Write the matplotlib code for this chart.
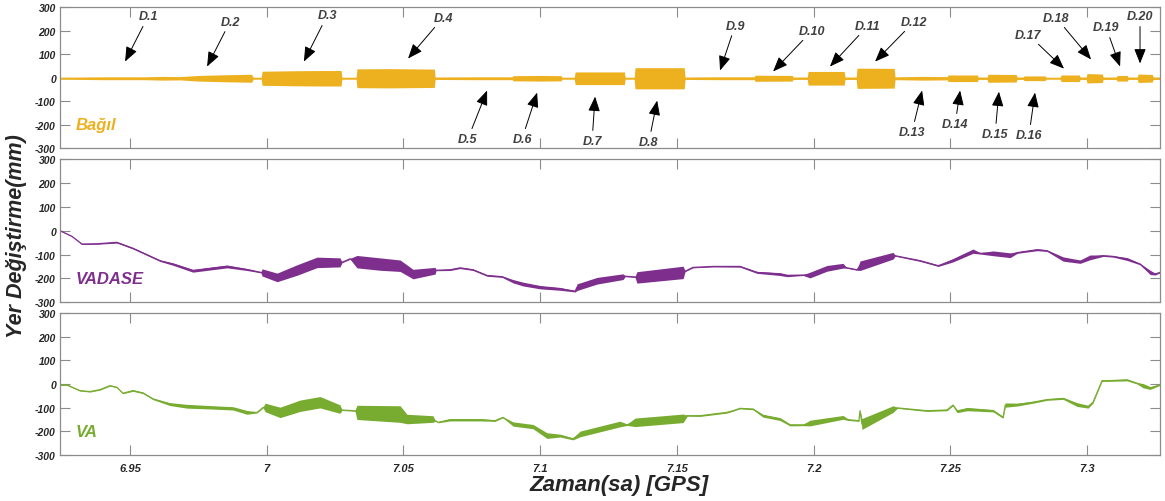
import matplotlib
matplotlib.use("Agg")
import matplotlib.pyplot as plt
import numpy as np

plt.rcParams['font.family'] = ['Liberation Sans', 'DejaVu Sans']

# --- Bagil (relative) : knot time, centre, half-width of oscillation envelope
bagil_t = [6.9244, 6.940, 6.955, 6.962, 6.9683, 6.975, 6.985, 6.9945, 6.9950, 6.9980,
           6.9983, 7.010, 7.020, 7.0272, 7.0275, 7.0327, 7.0330, 7.045, 7.0613, 7.0616,
           7.075, 7.0898, 7.0901, 7.100, 7.1077, 7.1080, 7.1125, 7.1128, 7.1308, 7.1311,
           7.1344, 7.1347, 7.1527, 7.1530, 7.165, 7.1783, 7.1786, 7.1922, 7.1925, 7.1977,
           7.1980, 7.2112, 7.2115, 7.2156, 7.2159, 7.2295, 7.2298, 7.240, 7.2489, 7.2492,
           7.2599, 7.2602, 7.2635, 7.2638, 7.2741, 7.2744, 7.2767, 7.2770, 7.2847, 7.2850,
           7.2902, 7.2905, 7.2972, 7.2975, 7.2997, 7.3000, 7.3056, 7.3059, 7.3107, 7.3110,
           7.3147, 7.3150, 7.3184, 7.3187, 7.3239, 7.3242, 7.3267]
bagil_a = [4, 6, 6, 8, 7, 12, 15, 17, 4, 4,
           30, 32, 33, 33, 4, 4, 40, 41, 39, 5,
           6, 6, 11, 12, 11, 4, 4, 27, 27, 4,
           4, 45, 45, 5, 6, 6, 13, 12, 5, 5,
           29, 29, 5, 5, 43, 42, 6, 8, 7, 14,
           14, 5, 5, 17, 16, 5, 5, 10, 10, 4,
           4, 14, 14, 5, 5, 20, 18, 5, 5, 12,
           12, 5, 5, 18, 16, 5, 5]
bagil_c = [-3] * len(bagil_t)

# --- VADASE
vadase_t = [6.9244, 6.9288, 6.9324, 6.9379, 6.9452, 6.9511, 6.9610, 6.9657, 6.9730, 6.9855,
            6.9928, 6.9979, 6.9983, 7.0038, 7.0111, 7.0184, 7.0268, 7.0275, 7.0305, 7.0330,
            7.0414, 7.0488, 7.0535, 7.0616, 7.0619, 7.0671, 7.0707, 7.0755, 7.0806, 7.0861,
            7.0901, 7.0938, 7.1000, 7.1073, 7.1128, 7.1135, 7.1208, 7.1303, 7.1311, 7.1347,
            7.1354, 7.1523, 7.1530, 7.1559, 7.1632, 7.1731, 7.1793, 7.1877, 7.1903, 7.1962,
            7.1987, 7.2049, 7.2108, 7.2119, 7.2159, 7.2170, 7.2291, 7.2298, 7.2390, 7.2456,
            7.2510, 7.2583, 7.2609, 7.2657, 7.2719, 7.2745, 7.2818, 7.2854, 7.2913, 7.2975,
            7.3011, 7.3059, 7.3096, 7.3147, 7.3194, 7.3231, 7.3249, 7.3267]
vadase_c = [0, -24, -56, -55, -49, -74, -126, -140, -168, -150,
            -163, -175, -175, -196, -165, -133, -133, -133, -118, -130,
            -140, -147, -182, -168, -166, -164, -156, -164, -188, -193,
            -212, -224, -237, -244, -254, -237, -210, -193, -191, -194,
            -196, -175, -170, -154, -150, -150, -175, -182, -188, -186,
            -186, -158, -147, -155, -164, -147, -105, -105, -126, -147,
            -124, -86, -95, -95, -103, -92, -80, -84, -119, -130,
            -112, -105, -108, -119, -140, -175, -182, -175]
vadase_a = [1, 1, 2, 2, 3, 3, 3, 5, 6, 6,
            4, 2, 15, 18, 22, 22, 19, 2, 2, 26,
            26, 24, 20, 14, 2, 3, 3, 3, 3, 3,
            7, 8, 7, 6, 3, 14, 14, 12, 2, 2,
            24, 26, 2, 2, 2, 3, 4, 6, 5, 2,
            12, 12, 10, 2, 2, 20, 14, 2, 3, 3,
            7, 9, 3, 10, 10, 3, 4, 3, 9, 7,
            10, 3, 3, 6, 3, 9, 4, 2]

# --- VA
va_t = [6.9244, 6.9270, 6.9317, 6.9354, 6.9390, 6.9427, 6.9452, 6.9474, 6.9511, 6.9548,
        6.9584, 6.9646, 6.9708, 6.9804, 6.9877, 6.9928, 6.9965, 6.9987, 6.9994, 7.0049,
        7.0122, 7.0195, 7.0268, 7.0275, 7.0323, 7.0330, 7.0488, 7.0513, 7.0608, 7.0616,
        7.0627, 7.0671, 7.0780, 7.0835, 7.0864, 7.0901, 7.0974, 7.1025, 7.1073, 7.1120,
        7.1146, 7.1292, 7.1318, 7.1347, 7.1523, 7.1538, 7.1585, 7.1683, 7.1705, 7.1731,
        7.1779, 7.1815, 7.1877, 7.1914, 7.1962, 7.1987, 7.2108, 7.2126, 7.2166, 7.2170,
        7.2177, 7.2291, 7.2306, 7.2415, 7.2488, 7.2510, 7.2525, 7.2562, 7.2657, 7.2693,
        7.2701, 7.2745, 7.2803, 7.2854, 7.2913, 7.2964, 7.3004, 7.3022, 7.3055, 7.3074,
        7.3147, 7.3183, 7.3205, 7.3231, 7.3267]
va_c = [-4, -4, -28, -32, -24, -7, -14, -39, -28, -38,
        -63, -85, -94, -99, -103, -120, -120, -99, -99, -120,
        -92, -77, -106, -110, -113, -120, -127, -148, -148, -155,
        -162, -151, -151, -155, -141, -169, -180, -218, -218, -232,
        -211, -169, -172, -162, -145, -134, -134, -120, -113, -103,
        -106, -134, -148, -173, -173, -165, -141, -151, -155, -113,
        -169, -106, -101, -113, -110, -89, -115, -106, -113, -141,
        -89, -87, -77, -66, -61, -87, -96, -77, 14, 14,
        17, 3, -7, -17, -4]
va_a = [2, 2, 2, 2, 2, 2, 2, 2, 3, 3,
        3, 6, 8, 7, 7, 8, 2, 2, 18, 22,
        24, 24, 18, 2, 2, 30, 35, 20, 14, 2,
        2, 5, 5, 3, 2, 9, 9, 12, 6, 4,
        12, 12, 3, 18, 18, 2, 3, 3, 2, 2,
        3, 6, 6, 4, 3, 12, 8, 3, 3, 3,
        23, 14, 2, 3, 3, 3, 6, 7, 5, 4,
        9, 6, 4, 3, 4, 8, 6, 4, 3, 3,
        4, 3, 9, 6, 2]

# --- event labels: name, text position (t, y), arrow tip (t, y)
ev_names = ['D.1', 'D.2', 'D.3', 'D.4', 'D.5', 'D.6', 'D.7', 'D.8', 'D.9', 'D.10',
            'D.11', 'D.12', 'D.13', 'D.14', 'D.15', 'D.16', 'D.17', 'D.18', 'D.19', 'D.20']
ev_text_t = [6.9566, 6.9866, 7.0221, 7.0645, 7.0736, 7.0934, 7.1190, 7.1398, 7.1713, 7.1995,
             7.2199, 7.2368, 7.2360, 7.2518, 7.2664, 7.2788, 7.2785, 7.2887, 7.3070, 7.3194]
ev_text_y = [260, 238, 264, 255, -260, -260, -268, -272, 221, 200,
             221, 238, -230, -196, -238, -243, 183, 255, 213, 260]
ev_tip_t = [6.9482, 6.9782, 7.0136, 7.0517, 7.0806, 7.0989, 7.1201, 7.1428, 7.1658, 7.1852,
            7.2060, 7.2225, 7.2397, 7.2536, 7.2678, 7.2810, 7.2916, 7.3015, 7.3121, 7.3194]
ev_tip_y = [68, 47, 68, 81, -55, -64, -81, -98, 30, 26,
            47, 68, -55, -55, -60, -64, 38, 77, 47, 60]

xticks = [6.95, 7.0, 7.05, 7.1, 7.15, 7.2, 7.25, 7.3]
xticklabels = ['6.95', '7', '7.05', '7.1', '7.15', '7.2', '7.25', '7.3']
yticks = [-300, -200, -100, 0, 100, 200, 300]

series = [
    ('Bağıl', bagil_t, bagil_c, bagil_a, '#EDB120'),
    ('VADASE', vadase_t, vadase_c, vadase_a, '#7E2F8E'),
    ('VA', va_t, va_c, va_a, '#77AC30'),
]

fig = plt.figure(figsize=(11.65, 5.02), dpi=100)
boxes = [[0.0515, 0.703, 0.9442, 0.281],
         [0.0515, 0.396, 0.9442, 0.285],
         [0.0515, 0.0916, 0.9442, 0.283]]

tick_font = dict(fontweight='bold', fontstyle='italic', color='#262626')
axes = []
for box, (name, t, c, a, col) in zip(boxes, series):
    ax = fig.add_axes(box)
    t = np.array(t)
    c = np.array(c)
    a = np.array(a)
    ax.fill_between(t, c - a, c + a, color=col, lw=0)
    ax.plot(t, c, color=col, lw=0.9)
    ax.set_xlim(6.9244, 7.3267)
    ax.set_ylim(-300, 300)
    ax.set_xticks(xticks)
    ax.set_yticks(yticks)
    ax.set_yticklabels([str(v) for v in yticks], fontsize=7.5, **tick_font)
    ax.tick_params(direction='in', length=7, width=0.8, color='#8c8c8c',
                   top=True, right=True, pad=3)
    for s in ax.spines.values():
        s.set_color('#8c8c8c')
        s.set_linewidth(0.9)
    ax.text(6.9302, -200, name, color=col, fontsize=12, fontweight='bold',
            fontstyle='italic', ha='left', va='center')
    axes.append(ax)

for ax in axes[:2]:
    ax.set_xticklabels([])
axes[2].set_xticklabels(xticklabels, fontsize=8, **tick_font)
axes[2].tick_params(axis='x', pad=6)

top = axes[0]
for i in range(len(ev_names)):
    top.annotate(ev_names[i], xy=(ev_tip_t[i], ev_tip_y[i]),
                 xytext=(ev_text_t[i], ev_text_y[i]),
                 fontsize=9, fontweight='bold', fontstyle='italic', color='#404040',
                 ha='center', va='center',
                 arrowprops=dict(arrowstyle='-|>,head_length=1.0,head_width=0.4',
                                 color='black', lw=0.7, shrinkA=1, shrinkB=0))

fig.text(0.0142, 0.530, 'Yer Değiştirme(mm)', rotation=90, fontsize=15.5,
         fontweight='bold', fontstyle='italic', color='#262626', ha='center', va='center')
fig.text(0.531, 0.033, 'Zaman(sa) [GPS]', fontsize=16,
         fontweight='bold', fontstyle='italic', color='#262626', ha='center', va='center')

fig.savefig('out.png', dpi=100)
